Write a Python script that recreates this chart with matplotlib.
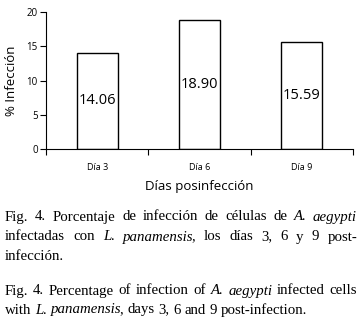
import numpy as np
import matplotlib.pyplot as plt

# data
dias = ['Día 3', 'Día 6', 'Día 9']
infeccion = [14.06, 18.90, 15.59]
etiquetas = ['14.06', '18.90', '15.59']

sans = 'Open Sans'
serif = ['Liberation Serif', 'DejaVu Serif']

fig = plt.figure(figsize=(3.62, 3.19), dpi=100)
ax = fig.add_axes([0.127, 0.533, 0.848, 0.429])

pos = np.arange(len(dias)) + 0.5
ax.bar(pos, infeccion, width=0.4, color='white', edgecolor='black', linewidth=1.0)
for x, v, t in zip(pos, infeccion, etiquetas):
    ax.text(x, v / 2, t, ha='center', va='center', fontsize=10.5, family=sans)

ax.set_xlim(0, 3)
ax.set_ylim(0, 20)
ax.set_yticks([0, 5, 10, 15, 20])
ax.set_xticks([0, 1, 2, 3])
ax.set_xticklabels([])
ax.set_xticks(pos, minor=True)
ax.set_xticklabels(dias, minor=True, fontsize=6.5, family=sans)
ax.tick_params(axis='x', which='major', length=4.5, width=0.8, direction='out')
ax.tick_params(axis='x', which='minor', length=0, pad=10)
ax.tick_params(axis='y', length=4, width=0.8, labelsize=7, pad=2)
for lab in ax.get_yticklabels():
    lab.set_family(sans)
ax.spines['top'].set_visible(False)
ax.spines['right'].set_visible(False)
ax.spines['left'].set_linewidth(0.8)
ax.spines['bottom'].set_linewidth(0.8)
ax.set_ylabel('% Infección', fontsize=9.5, family=sans, labelpad=6)
ax.set_xlabel('Días posinfección', fontsize=9.5, family=sans, labelpad=6)

# caption, written word by word so the lines can be justified
cap_size = 10.7
left, right = 5, 357
lines = [
    ([[('Fig.', 0)], [('4.', 0)], [('Porcentaje', 0)], [('de', 0)], [('infección', 0)],
      [('de', 0)], [('células', 0)], [('de', 0)], [('A.', 1)], [('aegypti', 1)]], 217, True),
    ([[('infectadas', 0)], [('con', 0)], [('L.', 1)], [('panamensis', 1), (',', 0)],
      [('los', 0)], [('días', 0)], [('3,', 0)], [('6', 0)], [('y', 0)], [('9', 0)],
      [('post-', 0)]], 237, True),
    ([[('infección.', 0)]], 256, False),
    ([[('Fig.', 0)], [('4.', 0)], [('Percentage', 0)], [('of', 0)], [('infection', 0)],
      [('of', 0)], [('A.', 1)], [('aegypti', 1)], [('infected', 0)], [('cells', 0)]], 291, True),
    ([[('with', 0)], [('L.', 1)], [('panamensis', 1), (',', 0)], [('days', 0)], [('3,', 0)],
      [('6', 0)], [('and', 0)], [('9', 0)], [('post-infection.', 0)]], 310, False),
]

renderer = fig.canvas.get_renderer()
H = 319


def piece(x, y, s, it):
    return fig.text(x / 362, 1 - y / H, s, fontsize=cap_size, family=serif,
                    style='italic' if it else 'normal', va='center', ha='left')


space = None
for words, y, justify in lines:
    items = []
    widths = []
    for w in words:
        ts = []
        wsum = 0
        for s, it in w:
            t = piece(0, y, s, it)
            wd = t.get_window_extent(renderer).width
            if it and len(w) > 1:
                wd -= 1.5  # italic overhang before the comma
            ts.append((t, wd))
            wsum += wd
        items.append(ts)
        widths.append(wsum)
    if space is None:
        sp = piece(0, y, 'a a', 0)
        sa = piece(0, y, 'aa', 0)
        space = sp.get_window_extent(renderer).width - sa.get_window_extent(renderer).width
        sp.remove()
        sa.remove()
    if justify and len(words) > 1:
        gap = (right - left - sum(widths)) / (len(words) - 1)
    else:
        gap = space
    x = left
    for ts, wsum in zip(items, widths):
        xx = x
        for t, wd in ts:
            t.set_x(xx / 362)
            xx += wd
        x += wsum + gap

fig.savefig('out.png', dpi=100)
